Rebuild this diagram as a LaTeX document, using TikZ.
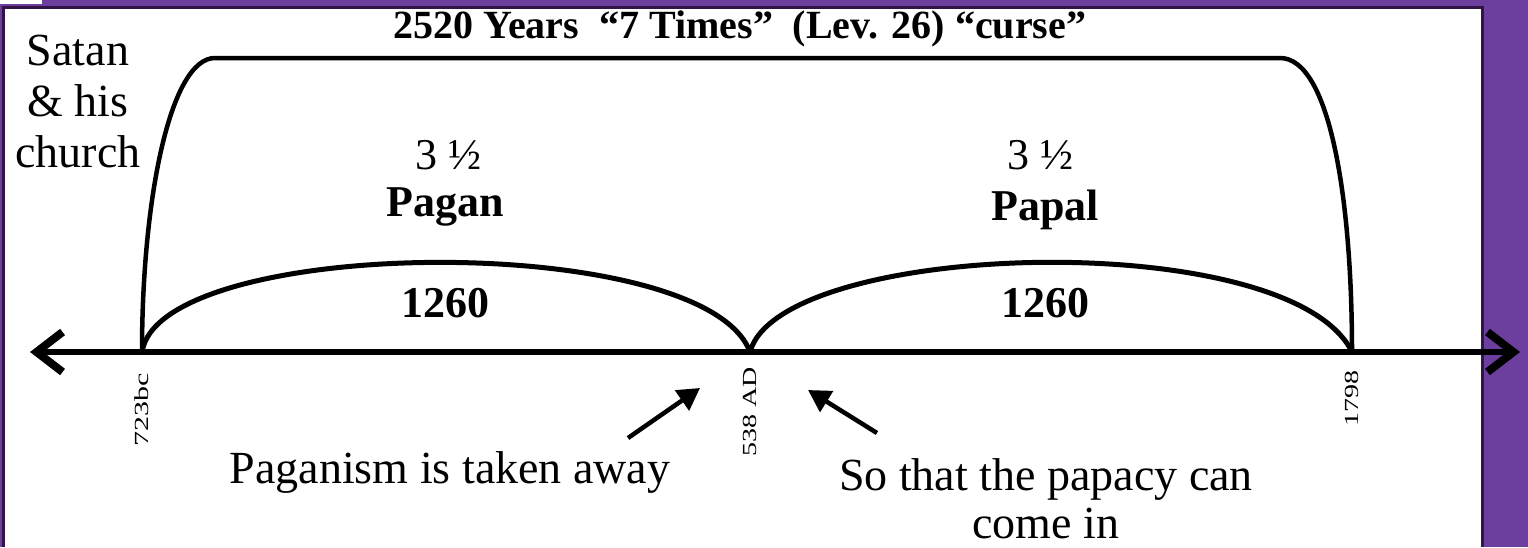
\documentclass[tikz,border=0pt]{standalone}
\usepackage{fontspec}
\setmainfont{Liberation Serif}
\usetikzlibrary{arrows.meta}
\definecolor{framepurple}{RGB}{108,62,158}
\definecolor{darkpurple}{RGB}{50,20,70}
\tikzset{
  curveline/.style={line width=5pt, line cap=round},
  bigtxt/.style={font=\fontsize{44}{52}\selectfont, inner sep=0pt},
  boldtxt/.style={font=\fontsize{44}{52}\selectfont\bfseries, inner sep=0pt},
  datetxt/.style={font=\fontsize{20}{24}\selectfont, inner sep=0pt, rotate=90},
  notetxt/.style={font=\fontsize{46}{48}\selectfont, inner sep=0pt, align=center},
  pointer/.style={line width=4.5pt, -{Triangle[length=22pt,width=24pt]}}
}
\begin{document}
\begin{tikzpicture}[x=1pt,y=-1pt]
\useasboundingbox (0,0) rectangle (1528,547);
% background frame
\fill[framepurple] (0,0) rectangle (1528,547);
\fill[white] (5,8) rectangle (1482,547);
\draw[darkpurple, line width=3pt] (3,547) -- (3,7) -- (1482,7) -- (1482,547);
\fill[white] (0,0) rectangle (42,4);
% points
\coordinate (a) at (142,352);
\coordinate (b) at (750,352);
\coordinate (c) at (1352,352);
\coordinate (lt) at (30,352);
\coordinate (rt) at (1520,352);
\coordinate (tl) at (215,58);
\coordinate (tr) at (1280,58);
% axis
\draw[line width=6pt, {Straight Barb[length=26pt,width=40pt,line width=8pt]}-{Straight Barb[length=26pt,width=40pt,line width=8pt]}] (lt) -- (rt);
% big bracket
\draw[line width=4.5pt, line join=round]
  (a) .. controls (142,200) and (170,58) .. (tl) -- (tr)
      .. controls (1330,58) and (1352,200) .. (c);
% small arcs
\draw[curveline] (a) .. controls (160,235) and (705,230) .. (b);
\draw[curveline] (b) .. controls (780,240) and (1290,225) .. (c);
% texts
\node[font=\fontsize{40}{48}\selectfont\bfseries, inner sep=0pt] (title) at (740,29) {2520 Years \ “7 Times” \ (Lev. 26) “curse”};
\node[notetxt, font=\fontsize{46}{51}\selectfont] (satan) at (78,101) {Satan\\\& his\\church};
\node[bigtxt] (h1) at (448,155) {3 ½};
\node[boldtxt] (pagan) at (445,207) {Pagan};
\node[boldtxt] (n1) at (445,303) {1260};
\node[bigtxt] (h2) at (1040,155) {3 ½};
\node[boldtxt] (papal) at (1045,210) {Papal};
\node[boldtxt] (n2) at (1045,303) {1260};
\node[datetxt] (d1) at (142,410) {\scalebox{1.5}[1]{723bc}};
\node[datetxt] (d2) at (750,412) {\scalebox{1.4}[1]{538 AD}};
\node[datetxt] (d3) at (1352,398) {\scalebox{1.4}[1]{1798}};
\node[notetxt] (pg) at (450,472) {Paganism is taken away};
\node[notetxt] (pp) at (1046,499) {So that the papacy can\\come in};
% pointers
\coordinate (p1s) at (628,438);
\coordinate (p1e) at (700,388);
\coordinate (p2s) at (877,433);
\coordinate (p2e) at (808,390);
\draw[pointer] (p1s) -- (p1e);
\draw[pointer] (p2s) -- (p2e);
\end{tikzpicture}
\end{document}
